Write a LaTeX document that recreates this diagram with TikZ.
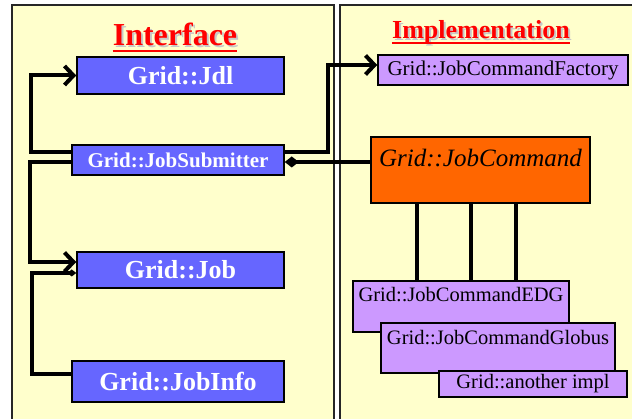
\documentclass[tikz,border=0pt]{standalone}
\usepackage{fontspec}
\setmainfont{Liberation Serif}
\usetikzlibrary{arrows.meta,positioning}

\definecolor{panelyellow}{HTML}{FFFFCC}
\definecolor{ifaceblue}{HTML}{6666FF}
\definecolor{implpurple}{HTML}{CC99FF}
\definecolor{cmdorange}{HTML}{FF6600}

\newcommand{\fsz}[1]{\fontsize{#1}{#1}\selectfont}

\tikzset{
  panel/.style={draw=black!85, line width=1.8pt, fill=panelyellow},
  ifacebox/.style={draw, line width=1.5pt, fill=ifaceblue, text=white},
  implbox/.style={draw, line width=1.5pt, fill=implpurple},
  boxtext/.style={inner sep=0pt, font=\fsz{20.5}},
  heading/.style={text=red, inner sep=0pt, anchor=base},
  headshadow/.style={heading, text=black!22},
  conn/.style={line width=4pt},
  opento/.style={-{Straight Barb[length=9pt,width=19pt]}},
}

\begin{document}
\begin{tikzpicture}[x=1pt,y=-1pt]
  \useasboundingbox (0,0) rectangle (632,419);
  \clip (0,0) rectangle (632,419);

  % panels
  \draw[panel] (12,5) rectangle (334,430);
  \draw[panel] (340,5) rectangle (645,430);

  % headings
  \node[headshadow, font=\bfseries\fsz{32}] (ifshadow) at (177,48) {Interface};
  \node[heading, font=\bfseries\fsz{32}] (iftitle) at (175,46) {Interface};
  \draw[red, line width=2.5pt] ([yshift=-5pt]iftitle.base west) -- ([yshift=-5pt]iftitle.base east);

  \node[headshadow, font=\bfseries\fsz{26}] (imshadow) at (483,41) {Implementation};
  \node[heading, font=\bfseries\fsz{26}] (imtitle) at (481,39) {Implementation};
  \draw[red, line width=2.5pt] ([yshift=-4pt]imtitle.base west) -- ([yshift=-4pt]imtitle.base east);

  % interface classes
  \node[ifacebox, minimum width=207pt, minimum height=37pt, font=\bfseries\fsz{26}] (jdl) at (180.5,75.5) {Grid::Jdl};
  \node[ifacebox, minimum width=212pt, minimum height=30pt, font=\bfseries\fsz{21}] (sub) at (178,160) {Grid::JobSubmitter};
  \node[ifacebox, minimum width=207pt, minimum height=36pt, font=\bfseries\fsz{26}] (job) at (180.5,270) {Grid::Job};
  \node[ifacebox, minimum width=212pt, minimum height=41pt, font=\bfseries\fsz{26}] (info) at (178,381.5) {Grid::JobInfo};

  % implementation classes
  \node[implbox, minimum width=250pt, minimum height=30pt, font=\fsz{21}] (fac) at (503,70) {Grid::JobCommandFactory};
  \node[draw, line width=1.5pt, fill=cmdorange, minimum width=219pt, minimum height=66pt] (cmd) at (480.5,170) {};
  \node[boxtext, font=\itshape\fsz{25}, below=12.5pt of cmd.north] (cmdtext) {Grid::JobCommand};

  \foreach \dx in {-63.5,-9.5,35.5}
    \draw[conn] ([xshift=\dx pt]cmd.south) -- ++(0,78);

  \node[implbox, minimum width=216pt, minimum height=51pt] (edg) at (461,306.5) {};
  \node[boxtext, below=7pt of edg.north] (edgtext) {Grid::JobCommandEDG};
  \node[implbox, minimum width=234pt, minimum height=50pt] (glob) at (498,348) {};
  \node[boxtext, below=8pt of glob.north] (globtext) {Grid::JobCommandGlobus};
  \node[implbox, minimum width=188pt, minimum height=26pt, font=\fsz{20.5}] (other) at (533,384) {Grid::another impl};

  % associations
  \draw[conn, opento] ([yshift=8pt]sub.west) -- ++(-40,0) |- (jdl.west);
  \draw[conn, opento] ([yshift=-2pt]sub.west) -- ++(-41,0) |- ([yshift=8pt]job.west);
  \draw[conn, -{Diamond[length=9pt,width=7pt]}] ([yshift=7pt]info.west) -- ++(-39,0) |- ([yshift=-3pt]job.west);
  \draw[conn, opento] ([yshift=8pt]sub.east) -- ++(43,0) |- ([yshift=5pt]fac.west);
  \draw[conn, {Diamond[length=14pt,width=11pt]}-] ([yshift=-2pt]sub.east) -- ([yshift=8pt]cmd.west);
\end{tikzpicture}
\end{document}
